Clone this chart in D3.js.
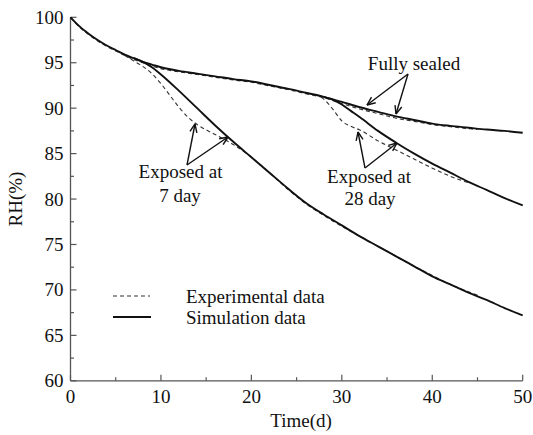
<!DOCTYPE html>
<html><head><meta charset="utf-8">
<script src="https://cdn.jsdelivr.net/npm/d3@7"></script>
<style>body{margin:0;background:#fff}svg{display:block}</style>
</head><body><svg id="c" width="533" height="435"></svg>
<script>
// Data
const xTicks = [0,10,20,30,40,50];
const yTicks = [60,65,70,75,80,85,90,95,100];
// Fully sealed – simulation
const sealedSimX = [0,1,2,3,4,5,6,7,8,9,10,12,14,16,18,20,22,24,26,28,30,32,34,36,38,40,42,44,46,48,50];
const sealedSimY = [100,99.0,98.2,97.5,96.9,96.4,95.9,95.5,95.1,94.8,94.5,94.1,93.8,93.5,93.2,92.95,92.55,92.15,91.7,91.25,90.7,90.1,89.6,89.1,88.7,88.3,88.05,87.85,87.65,87.5,87.3];
// Fully sealed – experimental
const sealedExpX = [0,1,2,3,4,5,6,7,8,9,10,12,14,16,18,20,22,24,26,28,30,32,34,36,38,40,42,44,45];
const sealedExpY = [100,98.9,98.1,97.4,96.8,96.3,95.8,95.35,95.0,94.65,94.35,94.0,93.7,93.4,93.1,92.85,92.45,92.05,91.6,91.15,90.5,89.9,89.4,88.9,88.55,88.2,87.95,87.75,87.65];
// Exposed at 7 day – simulation
const exp7SimX = [7,8,9,10,12,14,16,18,20,22,24,26,28,30,32,34,36,38,40,42,44,46,48,50];
const exp7SimY = [95.5,95.1,94.5,93.7,91.9,90.0,88.1,86.3,84.6,82.9,81.2,79.6,78.3,77.1,75.9,74.8,73.7,72.6,71.5,70.6,69.7,68.9,68.0,67.2];
// Exposed at 7 day – experimental
const exp7ExpX = [6,7,8,9,10,11,12,13,14,16,18,20,22,24,26,28,30,32,34,36,38,40,42,44,45];
const exp7ExpY = [95.8,95.2,94.6,93.8,92.7,91.4,90.1,89.0,88.2,87.1,86.0,84.6,82.9,81.1,79.5,78.2,77.0,75.9,74.8,73.7,72.6,71.6,70.6,69.8,69.4];
// Exposed at 28 day – simulation
const exp28SimX = [28,29,30,31,32,34,36,38,40,42,44,46,48,50];
const exp28SimY = [91.25,90.95,90.4,89.7,89.0,87.5,86.2,85.0,83.9,82.9,81.9,81.0,80.1,79.3];
// Exposed at 28 day – experimental
const exp28ExpX = [27,28,29,30,31,32,34,36,38,40,42,44];
const exp28ExpY = [91.5,91.0,89.9,88.6,88.0,87.6,86.4,85.4,84.4,83.4,82.5,81.8];
const legendLabels = ["Experimental data","Simulation data"];

const FONT = "'Liberation Serif', 'Times New Roman', Times, serif";
const FS = 19;
const svg = d3.select("#c").attr("font-family", FONT);
const x = d3.scaleLinear().domain([0,50]).range([70.5,522.7]);
const y = d3.scaleLinear().domain([60,100]).range([380.8,17.3]);
const axisColor = "#555";

const xMinor = d3.range(5,50,10), yMinor = d3.range(62.5,100,5);
const g = svg.append("g");
g.append("line").attr("x1",x(0)).attr("x2",x(50)).attr("y1",y(60)).attr("y2",y(60)).attr("stroke",axisColor).attr("stroke-width",1.3);
g.append("line").attr("x1",x(0)).attr("x2",x(0)).attr("y1",y(60)).attr("y2",y(100)).attr("stroke",axisColor).attr("stroke-width",1.3);
xTicks.forEach(t=>g.append("line").attr("x1",x(t)).attr("x2",x(t)).attr("y1",y(60)).attr("y2",y(60)-6).attr("stroke",axisColor).attr("stroke-width",1.2));
xMinor.forEach(t=>g.append("line").attr("x1",x(t)).attr("x2",x(t)).attr("y1",y(60)).attr("y2",y(60)-3.5).attr("stroke",axisColor).attr("stroke-width",1.2));
yTicks.forEach(t=>g.append("line").attr("x1",x(0)).attr("x2",x(0)+6).attr("y1",y(t)).attr("y2",y(t)).attr("stroke",axisColor).attr("stroke-width",1.2));
yMinor.forEach(t=>g.append("line").attr("x1",x(0)).attr("x2",x(0)+3.5).attr("y1",y(t)).attr("y2",y(t)).attr("stroke",axisColor).attr("stroke-width",1.2));

function txt(xp,yp,s,anchor){
  return svg.append("text").attr("x",xp).attr("y",yp).attr("text-anchor",anchor||"start")
    .attr("font-family",FONT).attr("font-size",FS).attr("fill","#111").text(s);
}
xTicks.forEach(t=>txt(x(t),403,t,"middle"));
yTicks.forEach(t=>txt(x(0)-7,y(t)+6.5,t,"end"));
txt(301,427,"Time(d)","middle");
txt(0,0,"RH(%)","middle").attr("transform","translate(22,199) rotate(-90)");

const line = d3.line().x(d=>x(d[0])).y(d=>y(d[1])).curve(d3.curveMonotoneX);
function draw(xs,ys,dashed){
  svg.append("path").attr("d",line(xs.map((v,i)=>[v,ys[i]]))).attr("fill","none")
    .attr("stroke",dashed?"#333":"#111").attr("stroke-width",dashed?1.1:1.9)
    .attr("stroke-dasharray",dashed?"4,3":null);
}
draw(sealedExpX,sealedExpY,true);
draw(exp7ExpX,exp7ExpY,true);
draw(exp28ExpX,exp28ExpY,true);
draw(sealedSimX,sealedSimY,false);
draw(exp7SimX,exp7SimY,false);
draw(exp28SimX,exp28SimY,false);

// legend
svg.append("line").attr("x1",113).attr("x2",150).attr("y1",296).attr("y2",296).attr("stroke","#333").attr("stroke-width",1.1).attr("stroke-dasharray","4,3");
svg.append("line").attr("x1",113).attr("x2",151).attr("y1",317).attr("y2",317).attr("stroke","#111").attr("stroke-width",1.9);
txt(186,303,legendLabels[0]);
txt(186,324,legendLabels[1]);

// annotations
function arrow(x1,y1,x2,y2){
  svg.append("line").attr("x1",x1).attr("y1",y1).attr("x2",x2).attr("y2",y2).attr("stroke","#111").attr("stroke-width",1.4);
  const a=Math.atan2(y2-y1,x2-x1), L=9, w=0.4;
  [a+Math.PI-w,a+Math.PI+w].forEach(b=>svg.append("line").attr("x1",x2).attr("y1",y2)
    .attr("x2",x2+L*Math.cos(b)).attr("y2",y2+L*Math.sin(b)).attr("stroke","#111").attr("stroke-width",1.4));
}
txt(414,70,"Fully sealed","middle");
arrow(408,74,367,105);
arrow(408,74,396,114);
txt(369,183,"Exposed at","middle");
txt(370,205,"28 day","middle");
arrow(365,168,358,132);
arrow(365,168,397,143);
txt(180.5,178,"Exposed at","middle");
txt(180,202,"7 day","middle");
arrow(187,165,195,124);
arrow(187,165,228,137);
</script></body></html>
